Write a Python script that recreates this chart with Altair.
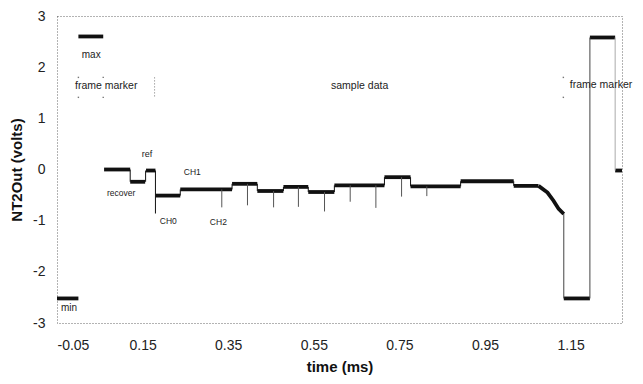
import altair as alt
import pandas as pd

# Noisy level segments (time in ms, volts)
seg_start = [-0.05, 0.000, 0.060, 0.121, 0.158, 0.180, 0.238, 0.359, 0.418, 0.479, 0.537, 0.598, 0.715, 0.776, 0.893, 1.017, 1.134, 1.195, 1.254]
seg_end   = [0.000, 0.058, 0.121, 0.156, 0.180, 0.238, 0.359, 0.418, 0.479, 0.537, 0.598, 0.715, 0.776, 0.893, 1.017, 1.075, 1.195, 1.254, 1.270]
seg_level = [-2.52, 2.60, 0.00, -0.24, -0.02, -0.51, -0.39, -0.28, -0.42, -0.34, -0.44, -0.31, -0.15, -0.33, -0.23, -0.32, -2.52, 2.58, -0.02]

# Droop before the end frame marker
decline_t = [1.075, 1.096, 1.110, 1.122, 1.134]
decline_v = [-0.32, -0.45, -0.61, -0.77, -0.87]

# Thin transitions between levels
step_t    = [0.121, 0.157, 0.180, 0.238, 0.359, 0.418, 0.479, 0.537, 0.598, 0.715, 0.776, 0.893, 1.017, 1.134, 1.195, 1.254]
step_from = [0.00, -0.24, -0.02, -0.51, -0.39, -0.28, -0.42, -0.34, -0.44, -0.31, -0.15, -0.33, -0.23, -0.87, -2.52, 2.58]
step_to   = [-0.24, -0.02, -0.86, -0.39, -0.28, -0.42, -0.34, -0.44, -0.31, -0.15, -0.33, -0.23, -0.32, -2.52, 2.58, -0.02]
step_col  = ["#111"] * 13 + ["#444", "#444", "#aaa"]

# Downward spikes at sample boundaries
spike_t   = [0.335, 0.395, 0.456, 0.514, 0.575, 0.635, 0.695, 0.755, 0.814]
spike_top = [-0.39, -0.28, -0.42, -0.34, -0.44, -0.31, -0.31, -0.15, -0.33]
spike_bot = [-0.74, -0.70, -0.74, -0.73, -0.82, -0.63, -0.75, -0.53, -0.52]

# Annotations
lab_text = ["max", "min", "frame marker", "sample data", "frame marker", "ref", "CH1", "recover", "CH0", "CH2"]
lab_t    = [0.030, -0.022, 0.065, 0.657, 1.221, 0.160, 0.266, 0.100, 0.210, 0.327]
lab_v    = [2.24, -2.71, 1.64, 1.64, 1.645, 0.31, -0.05, -0.46, -1.01, -1.02]
lab_size = [10, 10, 10.5, 10.5, 10.5, 9, 8.5, 8.5, 8.5, 8.5]

# Frame-marker bracket marks
brk_t = [0.178]
brk_v1 = [1.80]
brk_v2 = [1.41]
dot_t = [0.0, 0.0, 0.058, 0.058, 1.133, 1.133]
dot_v = [1.80, 1.41, 1.80, 1.41, 1.80, 1.41]

x_ticks = [-0.05, 0.15, 0.35, 0.55, 0.75, 0.95, 1.15]
y_ticks = [-3, -2, -1, 0, 1, 2, 3]

FONT = "Liberation Sans"

xs = alt.Scale(domain=[-0.05, 1.27], nice=False, zero=False)
ys = alt.Scale(domain=[-3, 3], nice=False, zero=False)

xaxis = alt.Axis(values=x_ticks, title="time (ms)", grid=False, ticks=False, domain=False,
                 labelExpr="datum.value < 0 ? '-' + format(-datum.value, '.2f') : format(datum.value, '.2f')",
                 labelFontSize=14, labelColor="#222", labelPadding=15, labelFont=FONT,
                 titleFontSize=15, titleFontWeight="bold", titleFont=FONT, titleColor="#111",
                 titleBaseline="middle", titleY=43)
yaxis = alt.Axis(values=y_ticks, title="NT2Out (volts)", grid=False, ticks=False, domain=False,
                 labelExpr="datum.value < 0 ? '-' + format(-datum.value, 'd') : format(datum.value, 'd')",
                 labelFontSize=14, labelColor="#222", labelPadding=12, labelFont=FONT,
                 titleFontSize=15, titleFontWeight="bold", titleFont=FONT, titleColor="#111",
                 titleBaseline="middle", titleX=-41, titleY=153.5, titleAngle=-90)

segs = pd.DataFrame({"s": seg_start, "e": seg_end, "v": seg_level})
decl = pd.DataFrame({"t": decline_t, "v": decline_v})
steps = pd.DataFrame({"t": step_t, "a": step_from, "b": step_to, "c": step_col})
spikes = pd.DataFrame({"t": spike_t, "a": spike_top, "b": spike_bot})
labs = pd.DataFrame({"text": lab_text, "t": lab_t, "v": lab_v, "size": lab_size})
brk = pd.DataFrame({"t": brk_t, "a": brk_v1, "b": brk_v2})
dots = pd.DataFrame({"t": dot_t, "v": dot_v})

seg_layer = alt.Chart(segs).mark_rule(color="#111", strokeWidth=3.8).encode(
    x=alt.X("s:Q", scale=xs, axis=xaxis), x2="e:Q",
    y=alt.Y("v:Q", scale=ys, axis=yaxis))

decl_layer = alt.Chart(decl).mark_line(color="#111", strokeWidth=3.8).encode(
    x=alt.X("t:Q", scale=xs), y=alt.Y("v:Q", scale=ys))

step_layer = alt.Chart(steps).mark_rule(strokeWidth=1).encode(
    x=alt.X("t:Q", scale=xs), y=alt.Y("a:Q", scale=ys), y2="b:Q",
    color=alt.Color("c:N", scale=None))

spike_layer = alt.Chart(spikes).mark_rule(strokeWidth=1, color="#555").encode(
    x=alt.X("t:Q", scale=xs), y=alt.Y("a:Q", scale=ys), y2="b:Q")

brk_layer = alt.Chart(brk).mark_rule(strokeWidth=1, color="#777", strokeDash=[1, 2]).encode(
    x=alt.X("t:Q", scale=xs), y=alt.Y("a:Q", scale=ys), y2="b:Q")

dot_layer = alt.Chart(dots).mark_square(size=2, color="#777", opacity=1).encode(
    x=alt.X("t:Q", scale=xs), y=alt.Y("v:Q", scale=ys))

text_layer = alt.Chart(labs).mark_text(font=FONT, color="#222", align="center", baseline="middle").encode(
    x=alt.X("t:Q", scale=xs), y=alt.Y("v:Q", scale=ys), text="text:N",
    size=alt.Size("size:Q", scale=None, legend=None))

chart = alt.layer(seg_layer, decl_layer, step_layer, spike_layer, brk_layer, dot_layer, text_layer).properties(
    width=565, height=307,
    autosize=alt.AutoSizeParams(type="none"),
    padding={"left": 49, "top": 8, "right": 13, "bottom": 53},
    background="white",
).configure_view(stroke="#666", strokeDash=[1, 2], strokeWidth=1)

chart.save("out.html", embed_options={"renderer": "svg", "actions": False})
